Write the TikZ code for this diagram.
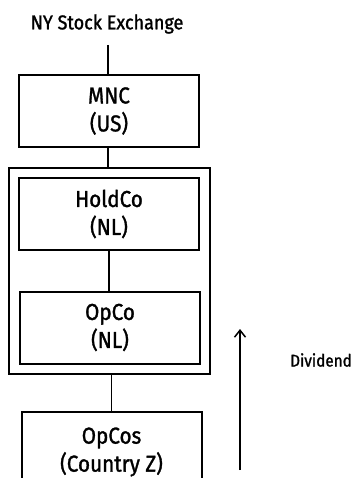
\documentclass[tikz,border=0pt]{standalone}
\usepackage{fontspec}
\setmainfont{Fira Sans}[FakeStretch=0.9,FakeBold=1.3]
\usetikzlibrary{arrows.meta,fit}
\begin{document}
\begin{tikzpicture}[x=1pt,y=-1pt,
  entity/.style={draw,line width=2pt,minimum width=180pt,minimum height=72pt,align=center,font=\fontsize{23}{28}\selectfont,inner sep=0pt},
  link/.style={line width=1.5pt},
  lbl/.style={font=\fontsize{20}{22}\selectfont,inner sep=0pt}]
\useasboundingbox (0,0) rectangle (353,478);
\clip (0,0) rectangle (353,478);
\node[lbl] (nyse) at (107,24) {NY Stock Exchange};
\coordinate (nyseend) at (108,45);
\node[entity] (mnc) at (109,111) {MNC\\(US)};
\node[entity] (holdco) at (109,214) {HoldCo\\(NL)};
\node[entity] (opco) at (110,327.5) {OpCo\\(NL)};
\node[draw,line width=2pt,fit=(holdco)(opco),inner sep=9pt] (group) {};
\node[entity,minimum height=80pt] (opcos) at (111.5,452) {OpCos\\(Country Z)};
\draw[link] (nyseend) -- (mnc.north -| nyseend);
\draw[link] (mnc.south -| nyseend) -- (group.north -| nyseend);
\draw[link] (holdco.south) -- (opco.north -| holdco.south);
\draw[link] (group.south -| opcos.north) -- (opcos.north);
\coordinate (divlow) at (240,470);
\coordinate (divhigh) at (240,329);
\draw[link,-{Straight Barb[length=7pt,width=11pt,line width=1.5pt]}] (divlow) -- (divhigh);
\node[lbl,font=\fontsize{17}{20}\selectfont,anchor=east] (div) at (352,360) {Dividend};
\end{tikzpicture}
\end{document}
